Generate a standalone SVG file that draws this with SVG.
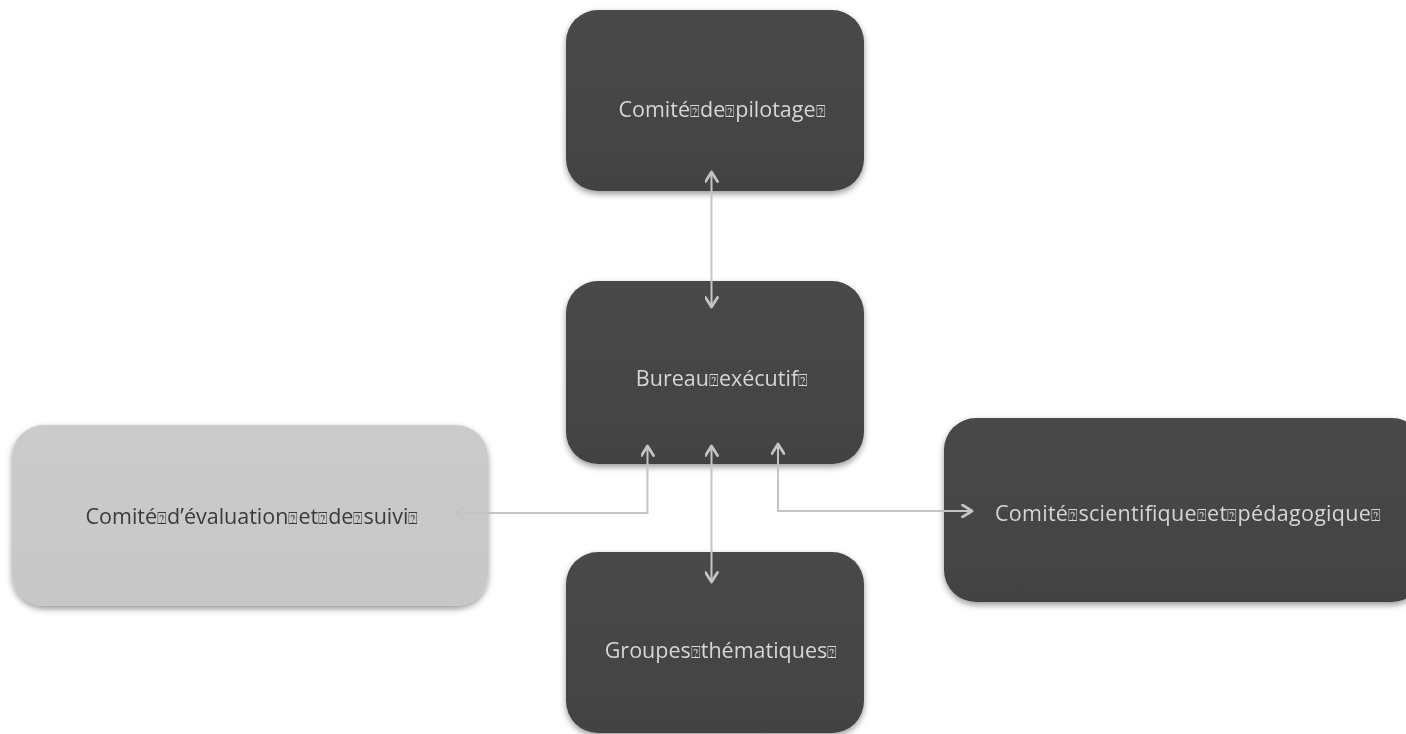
<svg xmlns="http://www.w3.org/2000/svg" width="1406" height="734" viewBox="0 0 1406 734">
<style>
.dark{fill:url(#gd);}
.light{fill:url(#gl);}
.lbl{font-family:"Open Sans","Liberation Sans",sans-serif;font-size:21.5px;text-anchor:middle;}
.lw{fill:#d6d6d6;}
.lk{fill:#3a3a3a;}
.q{font-family:"DejaVu Sans",sans-serif;font-size:16px;}
.con{fill:none;stroke:#c4c4c4;stroke-width:2;}
</style>
<defs>
<linearGradient id="gd" x1="0" y1="0" x2="0" y2="1">
<stop offset="0" stop-color="#484848"/>
<stop offset="1" stop-color="#434343"/>
</linearGradient>
<linearGradient id="gl" x1="0" y1="0" x2="0" y2="1">
<stop offset="0" stop-color="#cbcbcb"/>
<stop offset="1" stop-color="#c7c7c7"/>
</linearGradient>
<filter id="sh" x="-10%" y="-10%" width="120%" height="130%">
<feDropShadow dx="0" dy="3" stdDeviation="3" flood-color="#000" flood-opacity="0.4"/>
</filter>
<marker id="ah" viewBox="0 0 14 14" refX="12" refY="7" markerWidth="14" markerHeight="14" markerUnits="userSpaceOnUse" orient="auto-start-reverse">
<path d="M2.5,1 L12,7 L2.5,13" fill="none" stroke="#c4c4c4" stroke-width="2.8" stroke-linecap="round" stroke-linejoin="round"/>
</marker>
</defs>

<g id="node-pilotage" filter="url(#sh)">
<rect x="566" y="10" width="298" height="181" rx="32" class="dark"/>
<text x="722" y="117" class="lbl lw">Comité<tspan class="q">⍰</tspan>de<tspan class="q">⍰</tspan>pilotage<tspan class="q">⍰</tspan></text>
</g>

<g id="node-bureau" filter="url(#sh)">
<rect x="566" y="281" width="298" height="183" rx="32" class="dark"/>
<text x="722" y="386" class="lbl lw">Bureau<tspan class="q">⍰</tspan>exécutif<tspan class="q">⍰</tspan></text>
</g>

<g id="node-evaluation" filter="url(#sh)">
<rect x="12" y="425" width="476" height="181" rx="32" class="light"/>
<text x="252" y="524" class="lbl lk">Comité<tspan class="q">⍰</tspan>d’évaluation<tspan class="q">⍰</tspan>et<tspan class="q">⍰</tspan>de<tspan class="q">⍰</tspan>suivi<tspan class="q">⍰</tspan></text>
</g>

<g id="node-scientifique" filter="url(#sh)">
<rect x="944" y="418" width="480" height="184" rx="32" class="dark"/>
<text x="1188" y="521" class="lbl lw" textLength="386">Comité<tspan class="q">⍰</tspan>scientifique<tspan class="q">⍰</tspan>et<tspan class="q">⍰</tspan>pédagogique<tspan class="q">⍰</tspan></text>
</g>

<g id="node-groupes" filter="url(#sh)">
<rect x="566" y="552" width="298" height="181" rx="32" class="dark"/>
<text x="721" y="658" class="lbl lw">Groupes<tspan class="q">⍰</tspan>thématiques<tspan class="q">⍰</tspan></text>
</g>

<g id="connectors">
<line x1="711.5" y1="172" x2="711.5" y2="307" class="con" marker-start="url(#ah)" marker-end="url(#ah)"/>
<line x1="711.5" y1="446" x2="711.5" y2="582" class="con" marker-start="url(#ah)" marker-end="url(#ah)"/>
<polyline points="647.5,446 647.5,513 455,513" class="con" marker-start="url(#ah)" marker-end="url(#ah)"/>
<polyline points="778,444 778,511 972,511" class="con" marker-start="url(#ah)" marker-end="url(#ah)"/>
</g>
</svg>
